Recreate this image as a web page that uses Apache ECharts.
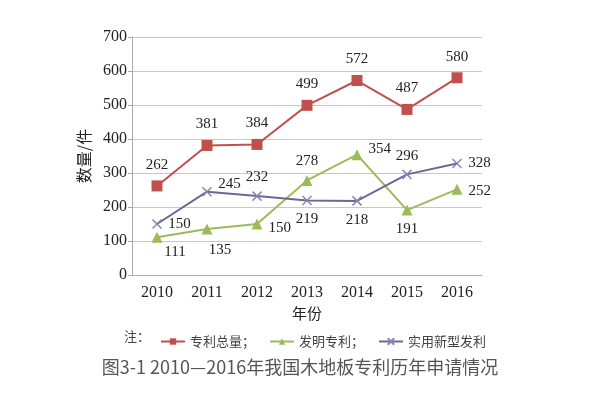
<!DOCTYPE html>
<html><head><meta charset="utf-8">
<script src="https://cdn.jsdelivr.net/npm/echarts@6/dist/echarts.min.js"></script>
<style>html,body{margin:0;padding:0;background:#fff}#c{width:600px;height:396px}</style>
</head><body><div id="c"></div>
<script>
const years = ['2010','2011','2012','2013','2014','2015','2016'];
const totalPatents = [262, 381, 384, 499, 572, 487, 580];
const inventionPatents = [111, 135, 150, 278, 354, 191, 252];
const utilityPatents = [150, 245, 232, 219, 218, 296, 328];
const seriesNames = ['专利总量', '发明专利', '实用新型发利'];

// label placement (style only)
const totalPos = [['top',[0,0]],['top',[0,0]],['top',[0,0]],['top',[0,0]],['top',[0,0]],['top',[0,0]],['top',[0,0]]];
const invPos = [['bottom',[18,-4]],['bottom',[13,2]],['right',[0,4]],['top',[0,0]],['right',[0,-6]],['bottom',[0,0]],['right',[0,2]]];
const utilPos = [['right',[0,0]],['right',[0,-8]],['top',[0,0]],['bottom',[0,0]],['bottom',[0,0]],['top',[0,0]],['right',[0,0]]];

const serif = '"Liberation Serif","DejaVu Serif",serif';
const cjk = '"Noto Sans CJK SC",sans-serif';
function mk(vals, pos){
  return vals.map((v,i)=>({value:v, label:{position:pos[i][0], offset:pos[i][1]}}));
}
const chart = echarts.init(document.getElementById('c'));
chart.setOption({
  animation:false,
  grid:{left:132, right:118, top:37, bottom:121},
  title:{text:'图3-1 2010—2016年我国木地板专利历年申请情况', left:'center', top:353,
    textStyle:{fontSize:18, fontWeight:'normal', color:'#555', fontFamily:cjk}},
  graphic:[{type:'text', left:124, top:330, style:{text:'注：', font:'13px "Noto Sans CJK SC"', fill:'#444'}}],
  legend:{top:330, left:155, itemGap:14, itemWidth:24, itemHeight:8,
    textStyle:{fontSize:13, color:'#444', fontFamily:cjk},
    formatter: n => n===seriesNames[2] ? n : n + '；'},
  xAxis:{type:'category', data:years, boundaryGap:true,
    name:'年份', nameLocation:'middle', nameGap:27,
    nameTextStyle:{fontSize:15, color:'#222', fontFamily:cjk},
    axisLine:{lineStyle:{color:'#aaa'}}, axisTick:{show:false},
    axisLabel:{fontSize:16, color:'#222', fontFamily:serif, margin:10}},
  yAxis:{type:'value', min:0, max:700, interval:100,
    name:'数量/件', nameLocation:'middle', nameGap:40, nameRotate:90,
    nameTextStyle:{fontSize:16, color:'#222', fontFamily:cjk},
    axisLine:{show:true, lineStyle:{color:'#aaa'}}, axisTick:{show:true, length:4, lineStyle:{color:'#aaa'}},
    splitLine:{lineStyle:{color:'#c8c8c8'}},
    axisLabel:{fontSize:16, color:'#222', fontFamily:serif, margin:5}},
  series:[
    {name:seriesNames[0], type:'line', data:mk(totalPatents,totalPos), symbol:'rect', symbolSize:11,
      itemStyle:{color:'#c0504d'}, lineStyle:{color:'#c0504d', width:2},
      label:{show:true, fontSize:15, color:'#222', fontFamily:serif, distance:8}},
    {name:seriesNames[1], type:'line', data:mk(inventionPatents,invPos), symbol:'triangle', symbolSize:11,
      itemStyle:{color:'#9bbb59'}, lineStyle:{color:'#9bbb59', width:2},
      label:{show:true, fontSize:15, color:'#222', fontFamily:serif, distance:6}},
    {name:seriesNames[2], type:'line', data:mk(utilityPatents,utilPos), symbol:'path://M0,0L10,10M10,0L0,10', symbolSize:9,
      itemStyle:{color:'#fff', borderColor:'#8886b0', borderWidth:1.5}, lineStyle:{color:'#6a6894', width:2},
      label:{show:true, fontSize:15, color:'#222', fontFamily:serif, distance:6}}
  ]
});
</script></body></html>
